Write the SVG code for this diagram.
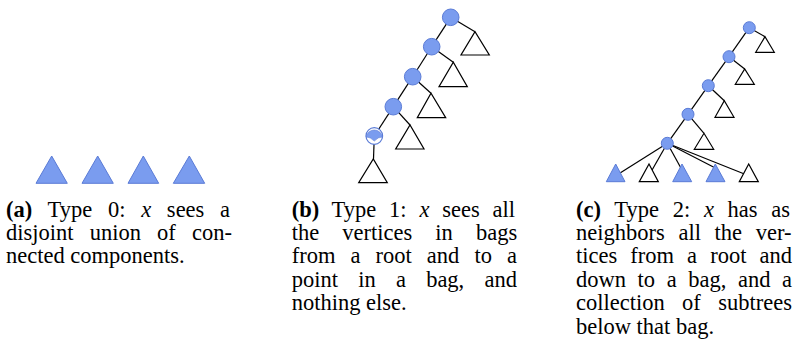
<svg xmlns="http://www.w3.org/2000/svg" width="803" height="347" viewBox="0 0 803 347">
<style>
.e{stroke:#000;stroke-width:1.2;fill:none}
.bl{fill:#7a9cef;stroke:#5a7bd6;stroke-width:1}
.wt{fill:#fff;stroke:#000;stroke-width:1.2}
.t{font-family:"Liberation Serif","Times New Roman",serif;font-size:22.5px;fill:#000}
.b{font-weight:bold}
.i{font-style:italic}
</style>
<g id="connectors">
<line class="e" x1="450.7" y1="17.3" x2="431.7" y2="46.7"/>
<line class="e" x1="431.7" y1="46.7" x2="412.7" y2="76.7"/>
<line class="e" x1="412.7" y1="76.7" x2="393.3" y2="106.7"/>
<line class="e" x1="393.3" y1="106.7" x2="374.3" y2="136"/>
<line class="e" x1="450.7" y1="17.3" x2="475" y2="31.7"/>
<line class="e" x1="431.7" y1="46.7" x2="453.3" y2="62.3"/>
<line class="e" x1="412.7" y1="76.7" x2="431" y2="93.3"/>
<line class="e" x1="393.3" y1="106.7" x2="410" y2="125"/>
<line class="e" x1="374.3" y1="136" x2="373.5" y2="159"/>
<line class="e" x1="749.3" y1="27.7" x2="729" y2="56.7"/>
<line class="e" x1="729" y1="56.7" x2="708.3" y2="85.7"/>
<line class="e" x1="708.3" y1="85.7" x2="688" y2="114.3"/>
<line class="e" x1="688" y1="114.3" x2="667.3" y2="143.3"/>
<line class="e" x1="749.3" y1="27.7" x2="765" y2="36.7"/>
<line class="e" x1="729" y1="56.7" x2="744.7" y2="69"/>
<line class="e" x1="708.3" y1="85.7" x2="724.3" y2="100.7"/>
<line class="e" x1="688" y1="114.3" x2="704" y2="133.3"/>
<line class="e" x1="667.3" y1="143.3" x2="615.7" y2="175.8"/>
<line class="e" x1="667.3" y1="143.3" x2="648.8" y2="175.8"/>
<line class="e" x1="667.3" y1="143.3" x2="682" y2="170"/>
<line class="e" x1="667.3" y1="143.3" x2="715.3" y2="168"/>
<line class="e" x1="667.3" y1="143.3" x2="748.8" y2="175.8"/>
</g>
<g id="a-comp1"><polygon class="bl" points="36,183.3 67.3,183.3 51.7,156"/></g>
<g id="a-comp2"><polygon class="bl" points="82,183.3 113.3,183.3 97.7,156"/></g>
<g id="a-comp3"><polygon class="bl" points="128,183.3 158.7,183.3 143.3,156"/></g>
<g id="a-comp4"><polygon class="bl" points="173.3,183.3 204.7,183.3 189.3,156"/></g>
<g id="b-v1"><circle class="bl" cx="450.7" cy="17.3" r="8.3"/></g>
<g id="b-v2"><circle class="bl" cx="431.7" cy="46.7" r="8.3"/></g>
<g id="b-v3"><circle class="bl" cx="412.7" cy="76.7" r="8.3"/></g>
<g id="b-v4"><circle class="bl" cx="393.3" cy="106.7" r="8.3"/></g>
<g id="b-v5">
<circle cx="374.3" cy="136" r="8.3" fill="#fff" stroke="#5a7bd6" stroke-width="1.2"/>
<path d="M366.1,137 A8.3,8.3 0 0 1 382.5,137 Q378.3,136.8 374.3,141 Q370.3,136.8 366.1,137 Z" fill="#7a9cef" stroke="#5a7bd6" stroke-width="0.6"/>
</g>
<g id="b-s1"><polygon class="wt" points="461,55 489.3,55 475,31.7"/></g>
<g id="b-s2"><polygon class="wt" points="439,86.7 467.3,86.7 453.3,62.3"/></g>
<g id="b-s3"><polygon class="wt" points="417.3,117.7 445.7,117.7 431,93.3"/></g>
<g id="b-s4"><polygon class="wt" points="395.7,149 424,149 410,125"/></g>
<g id="b-s5"><polygon class="wt" points="358.7,182.7 387.3,182.7 373.3,159"/></g>
<g id="c-v1"><circle class="bl" cx="749.3" cy="27.7" r="6"/></g>
<g id="c-v2"><circle class="bl" cx="729" cy="56.7" r="6"/></g>
<g id="c-v3"><circle class="bl" cx="708.3" cy="85.7" r="6"/></g>
<g id="c-v4"><circle class="bl" cx="688" cy="114.3" r="6"/></g>
<g id="c-v5"><circle class="bl" cx="667.3" cy="143.3" r="6"/></g>
<g id="c-s1"><polygon class="wt" points="755.7,52.3 774.3,52.3 765,36.7"/></g>
<g id="c-s2"><polygon class="wt" points="735.3,84.3 754.3,84.3 744.7,69"/></g>
<g id="c-s3"><polygon class="wt" points="715,117.3 734,117.3 724.3,100.7"/></g>
<g id="c-s4"><polygon class="wt" points="694.3,149.3 713.7,149.3 704,133.3"/></g>
<g id="c-t1"><polygon class="bl" points="606.3,181.7 625,181.7 615.7,164"/></g>
<g id="c-t2"><polygon class="wt" points="639.3,181.7 658.3,181.7 649,164"/></g>
<g id="c-t3"><polygon class="bl" points="672.7,181.7 691.7,181.7 682,164"/></g>
<g id="c-t4"><polygon class="bl" points="706,181.7 725,181.7 715.3,164"/></g>
<g id="c-t5"><polygon class="wt" points="739.3,181.7 758.3,181.7 748.7,164"/></g>
<g id="caption-a">
<text class="t" x="6" y="216.5" word-spacing="10.09"><tspan class="b">(a)</tspan> Type 0: <tspan class="i">x</tspan> sees a</text>
<text class="t" x="6" y="240" word-spacing="10.54">disjoint union of con-</text>
<text class="t" x="6" y="263.4">nected components.</text>
</g>
<g id="caption-b">
<text class="t" x="291.7" y="216.5" word-spacing="7.19"><tspan class="b">(b)</tspan> Type 1: <tspan class="i">x</tspan> sees all</text>
<text class="t" x="291.7" y="240" word-spacing="17.47">the vertices in bags</text>
<text class="t" x="291.7" y="263.4" word-spacing="9.44">from a root and to a</text>
<text class="t" x="291.7" y="286.8" word-spacing="14.61">point in a bag, and</text>
<text class="t" x="291.7" y="310.2">nothing else.</text>
</g>
<g id="caption-c">
<text class="t" x="576" y="216.5" word-spacing="8.09"><tspan class="b">(c)</tspan> Type 2: <tspan class="i">x</tspan> has as</text>
<text class="t" x="576" y="240" word-spacing="8.05">neighbors all the ver-</text>
<text class="t" x="576" y="263.4" word-spacing="7.45">tices from a root and</text>
<text class="t" x="576" y="286.8" word-spacing="5.96">down to a bag, and a</text>
<text class="t" x="576" y="310.2" word-spacing="11.77">collection of subtrees</text>
<text class="t" x="576" y="333.6">below that bag.</text>
</g>
</svg>
